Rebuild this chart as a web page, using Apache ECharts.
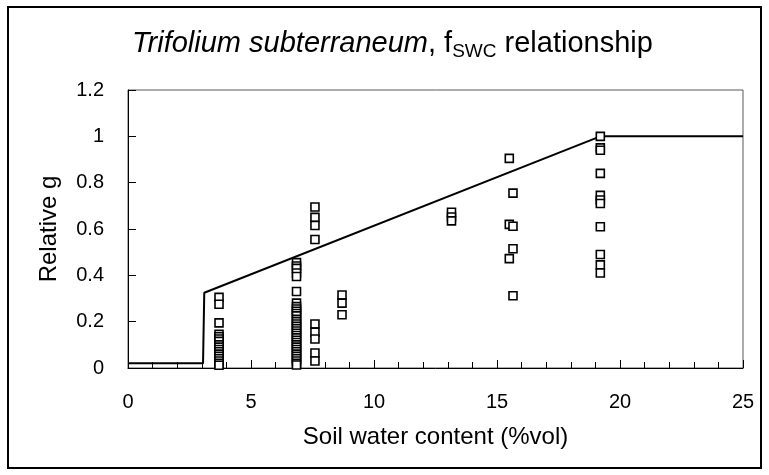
<!DOCTYPE html>
<html>
<head>
<meta charset="utf-8">
<script src="https://cdn.jsdelivr.net/npm/echarts@6/dist/echarts.min.js"></script>
<style>
  html, body { margin: 0; padding: 0; background: #fff; }
  #chart { width: 769px; height: 475px; }
</style>
</head>
<body>
<div id="chart"></div>
<script>
// f_SWC relationship line (breakpoints)
const lineX = [0, 3.05, 3.1, 19.2, 25]
const lineY = [0.02, 0.02, 0.325, 1, 1]

// measured relative g, one array per soil water content column
const swc37 = [0.305, 0.275, 0.195, 0.145, 0.135, 0.125, 0.115, 0.1, 0.09, 0.08, 0.07, 0.06, 0.05, 0.04, 0.03, 0.02, 0.012]
const swc685 = [0.455, 0.44, 0.43, 0.41, 0.395, 0.33, 0.28, 0.265, 0.255, 0.245, 0.235, 0.225, 0.21, 0.2, 0.19, 0.18, 0.17, 0.16, 0.15, 0.14, 0.13, 0.12, 0.11, 0.1, 0.09, 0.08, 0.07, 0.06, 0.05, 0.04, 0.03, 0.02, 0.013]
const swc76 = [0.695, 0.65, 0.615, 0.555, 0.19, 0.155, 0.125, 0.065, 0.03]
const swc87 = [0.315, 0.28, 0.23]
const swc1315 = [0.672, 0.652, 0.635]
const swc155 = [0.905, 0.62, 0.472]
const swc1565 = [0.755, 0.612, 0.515, 0.312]
const swc192 = [1.0, 0.95, 0.94, 0.84, 0.745, 0.725, 0.71, 0.61, 0.49, 0.445, 0.41]

const columnX = [3.7, 6.85, 7.6, 8.7, 13.15, 15.5, 15.65, 19.2]
const columnY = [swc37, swc685, swc76, swc87, swc1315, swc155, swc1565, swc192]

const xTicks = [0, 25, 5]
const yTicks = [0, 1.2, 0.2]

const points = []
columnX.forEach((x, i) => {
  columnY[i].forEach((y) => points.push([x, y]))
})

const chart = echarts.init(document.getElementById('chart'))
const font = 'Liberation Sans, Arial, sans-serif'

chart.setOption({
  animation: false,
  backgroundColor: '#fff',
  textStyle: { fontFamily: font },
  title: {
    left: 127,
    top: 22,
    text: '{i|Trifolium subterraneum}{n|, f}{s|SWC}{n| relationship}',
    textStyle: {
      fontWeight: 'normal',
      rich: {
        i: { fontSize: 29, fontStyle: 'italic', fontWeight: 'normal', color: '#000', fontFamily: font, lineHeight: 34 },
        n: { fontSize: 29, fontWeight: 'normal', color: '#000', fontFamily: font, lineHeight: 34 },
        s: { fontSize: 19, fontWeight: 'normal', color: '#000', fontFamily: font, lineHeight: 14, verticalAlign: 'bottom' }
      }
    }
  },
  graphic: [{
    type: 'rect',
    shape: { x: 8, y: 7, width: 753, height: 461 },
    style: { fill: 'none', stroke: '#000', lineWidth: 2 },
    silent: true
  }],
  grid: {
    left: 128, right: 26, top: 90, bottom: 107,
    show: true, borderColor: '#595959', borderWidth: 1
  },
  xAxis: {
    type: 'value',
    min: xTicks[0], max: xTicks[1], interval: xTicks[2],
    name: 'Soil water content (%vol)',
    nameLocation: 'middle',
    nameGap: 57,
    nameTextStyle: { fontSize: 24, color: '#000', fontFamily: font },
    axisLine: { lineStyle: { color: '#000', width: 1 } },
    axisTick: { inside: true, length: 8, lineStyle: { color: '#000' } },
    minorTick: { show: true, splitNumber: 5, length: 6, lineStyle: { color: '#000' } },
    splitLine: { show: false },
    axisLabel: { fontSize: 20, color: '#000', margin: 24, fontFamily: font }
  },
  yAxis: {
    type: 'value',
    min: yTicks[0], max: yTicks[1], interval: yTicks[2],
    name: 'Relative g',
    nameLocation: 'middle',
    nameGap: 67,
    nameTextStyle: { fontSize: 24, color: '#000', fontFamily: font },
    axisLine: { show: true, lineStyle: { color: '#000', width: 1 } },
    axisTick: { show: true, inside: true, length: 8, lineStyle: { color: '#000' } },
    splitLine: { show: false },
    axisLabel: { fontSize: 20, color: '#000', margin: 24, fontFamily: font }
  },
  series: [
    {
      type: 'line',
      data: lineX.map((x, i) => [x, lineY[i]]),
      symbol: 'none',
      lineStyle: { color: '#000', width: 2 },
      z: 3
    },
    {
      type: 'scatter',
      data: points,
      symbol: 'rect',
      symbolSize: 8,
      itemStyle: { color: '#fff', borderColor: '#000', borderWidth: 1.6, opacity: 1 },
      z: 4
    }
  ]
})
</script>
</body>
</html>
